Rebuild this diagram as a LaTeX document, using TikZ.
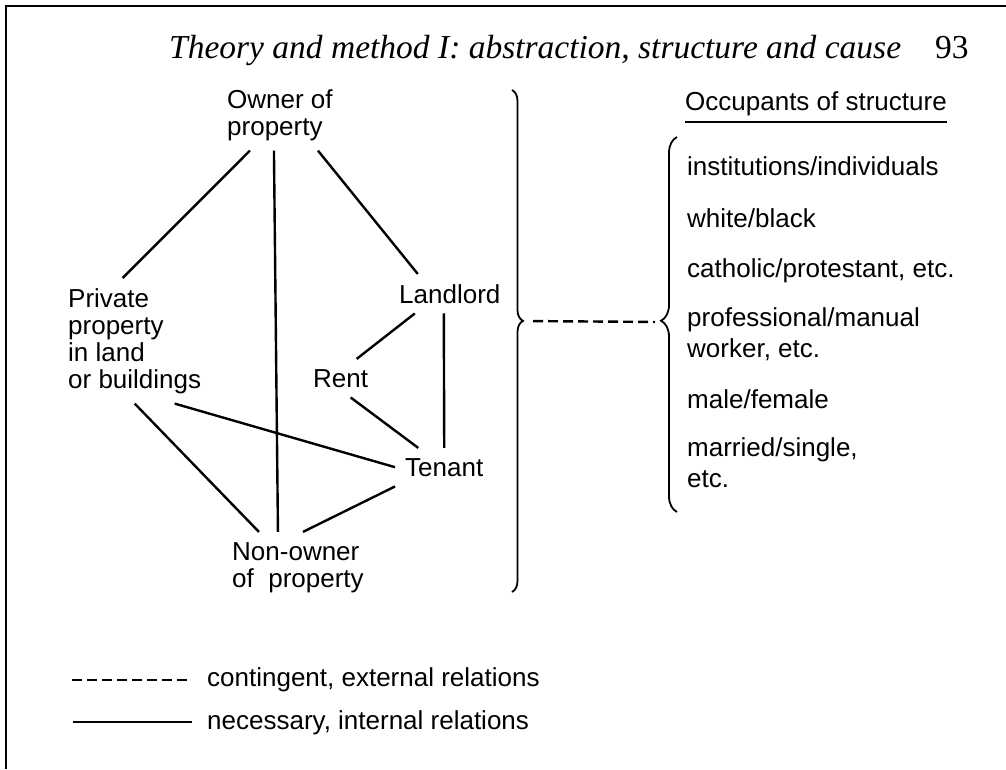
\documentclass[tikz,border=0pt]{standalone}
\usepackage{fontspec}
\setmainfont{Liberation Serif}
\setsansfont{Liberation Sans}
\usetikzlibrary{decorations.pathreplacing, calc}

\begin{document}
\begin{tikzpicture}[
  x=1pt, y=-1pt,
  term/.style={font=\sffamily\fontsize{26}{27}\selectfont, align=left,
               inner sep=10pt, anchor=base west},
  occup/.style={font=\sffamily\fontsize{26}{31}\selectfont, align=left,
                inner sep=0pt, anchor=base west},
  necrel/.style={line width=2.4pt},
  contrel/.style={line width=2.4pt, dash pattern=on 10pt off 5pt},
  bigbrace/.style={decorate, decoration={brace, amplitude=11pt, aspect=0.46}, line width=1.8pt},
  smallbrace/.style={decorate, decoration={brace, amplitude=16pt, aspect=0.51}, line width=1.8pt}
]
\useasboundingbox (0,0) rectangle (1006,769);

% page frame and running head
\draw[line width=2pt] (6,769) -- (6,6) -- (1006,6);
\node[inner sep=0pt, anchor=base west, font=\fontsize{33.5}{36}\selectfont\itshape] (ttl) at (169,58)
  {Theory and method I: abstraction, structure and cause};
\node[inner sep=0pt, anchor=base west, font=\fontsize{33.5}{36}\selectfont] (pg) at (935,58) {93};

% structure (base = last line)
\node[term] (own) at (217,135) {Owner of\\property};
\node[term] (priv) at (58,388) {Private\\property\\in land\\or buildings};
\node[term] (land) at (389,303) {Landlord};
\node[term] (rent) at (303,387) {Rent};
\node[term] (ten) at (395,476) {Tenant};
\node[term] (non) at (222,587) {Non-owner\\of\ \ property};

% necessary relations
\draw[necrel] ([xshift=-30pt]own.south) -- ([xshift=-12pt]priv.north);
\draw[necrel] ([xshift=-6pt]own.south) -- ([xshift=-20pt]non.north);
\draw[necrel] ([xshift=38pt]own.south) -- ([xshift=-32pt]land.north);
\draw[necrel] ([xshift=-35pt]land.south) -- ([xshift=16pt]rent.north);
\draw[necrel] ([xshift=-6pt]land.south) -- (ten.north);
\draw[necrel] ([xshift=10pt]rent.south) -- ([xshift=-26pt]ten.north);
\draw[necrel] ([xshift=40pt]priv.south) -- (ten.west);
\draw[necrel] (priv.south) -- ([xshift=-39pt]non.north);
\draw[necrel] (ten.south west) -- ([xshift=5pt]non.north);

% braces and the contingent link
\coordinate (btop) at (512,90);
\coordinate (bbot) at (512,592);
\coordinate (btip) at (523,321);
\draw[bigbrace] (btop) -- (bbot);
\coordinate (stop) at (677,137);
\coordinate (sbot) at (677,512);
\coordinate (stip) at (661,322);
\draw[smallbrace] (sbot) -- (stop);
\draw[contrel, shorten <=10pt, shorten >=6pt] (btip) -- (stip);

% occupants
\node[occup] (occ) at (685,110) {Occupants of structure};
\draw[line width=1.8pt] ([yshift=-6pt]occ.south west) -- ([yshift=-6pt]occ.south east);
\node[occup] (it1) at (687,175) {institutions/individuals};
\node[occup] (it2) at (687,227) {white/black};
\node[occup] (it3) at (687,277) {catholic/protestant, etc.};
\node[occup] (it4) at (687,357) {professional/manual\\worker, etc.};
\node[occup] (it5) at (687,408) {male/female};
\node[occup] (it6) at (687,487) {married/single,\\etc.};

% key
\node[occup] (kcont) at (207,686) {contingent, external relations};
\node[occup] (knec) at (207,729) {necessary, internal relations};
\coordinate (kd) at (72,680);
\coordinate (kn) at (73,722);
\draw[contrel, shorten >=17pt] (kd) -- (kd -| kcont.west);
\draw[necrel, shorten >=15pt] (kn) -- (kn -| knec.west);

\end{tikzpicture}
\end{document}
